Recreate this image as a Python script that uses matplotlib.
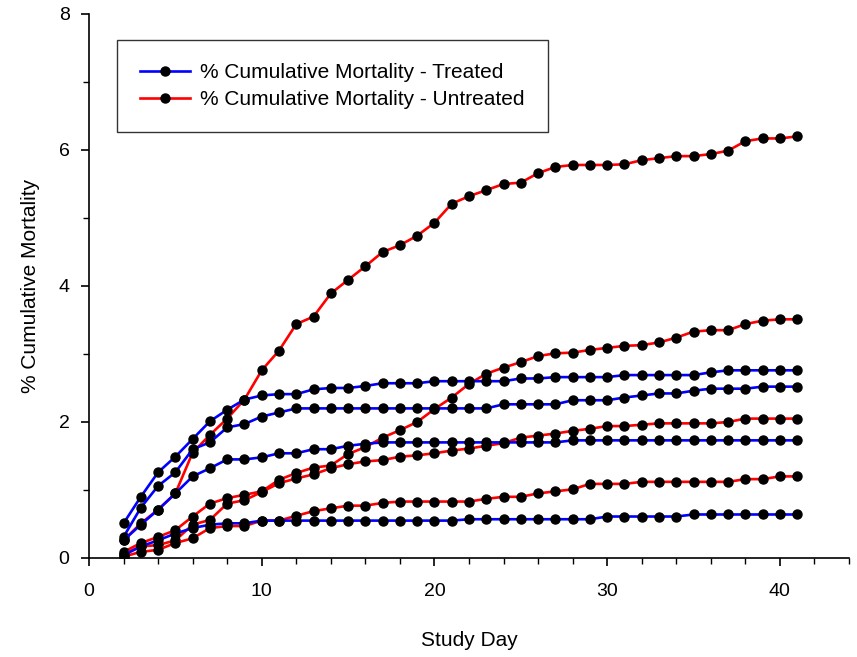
import matplotlib
matplotlib.use("Agg")
import matplotlib.pyplot as plt
from matplotlib.ticker import MultipleLocator

plt.rcParams["font.family"] = ["Liberation Sans", "DejaVu Sans"]

days = list(range(2, 42))

# treated groups (blue)
treated_a = [0.51, 0.90, 1.26, 1.49, 1.75, 2.01, 2.18, 2.33, 2.39, 2.41,
             2.41, 2.48, 2.50, 2.50, 2.53, 2.57, 2.57, 2.57, 2.60, 2.60,
             2.60, 2.60, 2.60, 2.64, 2.64, 2.66, 2.66, 2.66, 2.66, 2.69,
             2.69, 2.69, 2.69, 2.69, 2.73, 2.76, 2.76, 2.76, 2.76, 2.76]
treated_b = [0.31, 0.74, 1.06, 1.26, 1.60, 1.70, 1.92, 1.97, 2.08, 2.14,
             2.20, 2.20, 2.20, 2.20, 2.20, 2.20, 2.20, 2.20, 2.20, 2.20,
             2.20, 2.20, 2.26, 2.26, 2.26, 2.26, 2.32, 2.32, 2.32, 2.36,
             2.39, 2.42, 2.42, 2.46, 2.49, 2.49, 2.49, 2.52, 2.52, 2.52]
treated_c = [0.26, 0.49, 0.71, 0.95, 1.20, 1.32, 1.45, 1.45, 1.48, 1.54,
             1.54, 1.60, 1.60, 1.65, 1.68, 1.70, 1.70, 1.70, 1.70, 1.70,
             1.70, 1.70, 1.70, 1.70, 1.70, 1.70, 1.73, 1.73, 1.73, 1.73,
             1.73, 1.73, 1.73, 1.73, 1.73, 1.73, 1.73, 1.73, 1.73, 1.73]
treated_d = [0.04, 0.17, 0.26, 0.36, 0.44, 0.49, 0.51, 0.51, 0.55, 0.55,
             0.55, 0.55, 0.55, 0.55, 0.55, 0.55, 0.55, 0.55, 0.55, 0.55,
             0.57, 0.57, 0.57, 0.57, 0.57, 0.57, 0.57, 0.57, 0.61, 0.61,
             0.61, 0.61, 0.61, 0.64, 0.64, 0.64, 0.64, 0.64, 0.64, 0.64]

# untreated groups (red)
untreated_a = [0.26, 0.51, 0.71, 0.95, 1.55, 1.81, 2.05, 2.33, 2.76, 3.05,
               3.44, 3.55, 3.89, 4.09, 4.29, 4.50, 4.60, 4.74, 4.93, 5.21,
               5.32, 5.41, 5.50, 5.52, 5.66, 5.75, 5.78, 5.78, 5.78, 5.79,
               5.85, 5.88, 5.91, 5.91, 5.94, 5.99, 6.13, 6.17, 6.17, 6.20]
untreated_b = [0.09, 0.22, 0.31, 0.41, 0.61, 0.80, 0.88, 0.93, 0.98, 1.15,
               1.25, 1.33, 1.36, 1.53, 1.63, 1.77, 1.88, 2.00, 2.19, 2.36,
               2.56, 2.71, 2.80, 2.88, 2.97, 3.01, 3.02, 3.06, 3.09, 3.12,
               3.13, 3.17, 3.24, 3.33, 3.35, 3.35, 3.44, 3.49, 3.51, 3.51]
untreated_c = [0.06, 0.17, 0.19, 0.26, 0.49, 0.56, 0.80, 0.85, 0.97, 1.10,
               1.17, 1.23, 1.32, 1.38, 1.42, 1.44, 1.49, 1.51, 1.54, 1.58,
               1.61, 1.65, 1.69, 1.77, 1.80, 1.83, 1.87, 1.90, 1.94, 1.94,
               1.96, 1.98, 1.98, 1.98, 1.98, 2.00, 2.05, 2.05, 2.05, 2.05]
untreated_d = [0.02, 0.09, 0.12, 0.22, 0.29, 0.44, 0.47, 0.47, 0.55, 0.55,
               0.62, 0.69, 0.73, 0.77, 0.77, 0.81, 0.83, 0.83, 0.83, 0.83,
               0.83, 0.87, 0.90, 0.90, 0.95, 0.98, 1.01, 1.09, 1.09, 1.09,
               1.12, 1.12, 1.12, 1.12, 1.12, 1.12, 1.16, 1.16, 1.20, 1.20]

treated = [treated_a, treated_b, treated_c, treated_d]
untreated = [untreated_a, untreated_b, untreated_c, untreated_d]

fig = plt.figure(figsize=(8.57, 6.57), dpi=100)
ax = fig.add_axes([89 / 857, 1 - 558 / 657, 760 / 857, 544 / 657])

style = dict(lw=1.9, marker="o", ms=6.5, mfc="black", mec="black")
for i, ys in enumerate(untreated):
    ax.plot(days, ys, color="#FF0000", zorder=2,
            label="% Cumulative Mortality - Untreated" if i == 0 else None, **style)
for i, ys in enumerate(treated):
    ax.plot(days, ys, color="#0000FF", zorder=3,
            label="% Cumulative Mortality - Treated" if i == 0 else None, **style)

ax.set_xlim(0, 44)
ax.set_ylim(0, 8)
ax.xaxis.set_major_locator(MultipleLocator(10))
ax.xaxis.set_minor_locator(MultipleLocator(2))
ax.yaxis.set_major_locator(MultipleLocator(2))
ax.yaxis.set_minor_locator(MultipleLocator(1))
for s in ("top", "right"):
    ax.spines[s].set_visible(False)
for s in ("left", "bottom"):
    ax.spines[s].set_linewidth(1.2)
ax.tick_params(which="major", direction="out", length=6, width=1.2,
               labelsize=14)
ax.tick_params(which="minor", direction="out", length=4, width=1.0)
ax.tick_params(axis="x", which="major", pad=12)
ax.tick_params(axis="y", which="major", pad=8)

ax.set_xlabel("Study Day", fontsize=15, labelpad=22)
ax.set_ylabel("% Cumulative Mortality", fontsize=15, labelpad=13)

handles, labels = ax.get_legend_handles_labels()
order = [1, 0]
leg = ax.legend([handles[k] for k in order], [labels[k] for k in order],
                loc="upper left", bbox_to_anchor=(0.037, 0.952),
                borderaxespad=0, fontsize=15, frameon=True, fancybox=False,
                edgecolor="black", numpoints=1, handlelength=2.4,
                borderpad=1.1, labelspacing=0.38, handletextpad=0.5)
leg.get_frame().set_linewidth(1.0)

fig.savefig("out.png", dpi=100)
